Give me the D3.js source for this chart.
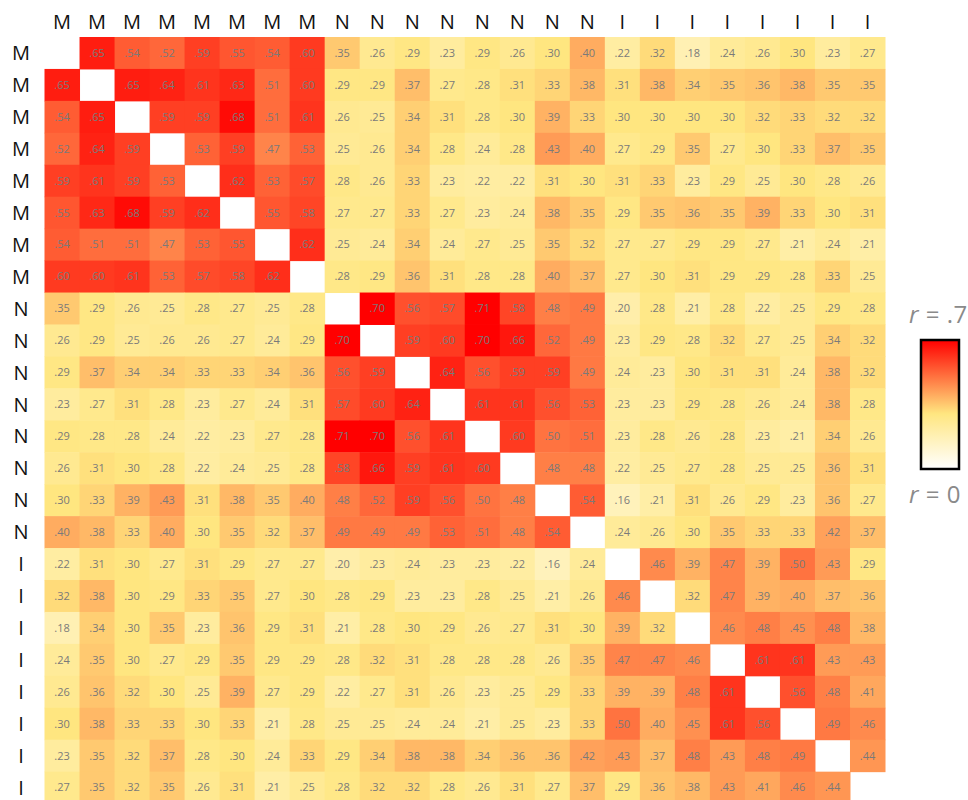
<!DOCTYPE html>
<html>
<head>
<meta charset="utf-8">
<script src="https://cdn.jsdelivr.net/npm/d3@7"></script>
<style>
  html, body { margin: 0; padding: 0; background: #fff; }
  svg { display: block; }
</style>
</head>
<body>
<svg id="chart" width="968" height="800"></svg>
<script>
// Variable labels (group letters), in matrix order
const labels = ["M","M","M","M","M","M","M","M",
                "N","N","N","N","N","N","N","N",
                "I","I","I","I","I","I","I","I"];

// Correlation matrix (null on diagonal)
const corr = [
  [null,.65,.54,.52,.59,.55,.54,.60,.35,.26,.29,.23,.29,.26,.30,.40,.22,.32,.18,.24,.26,.30,.23,.27],
  [.65,null,.65,.64,.61,.63,.51,.60,.29,.29,.37,.27,.28,.31,.33,.38,.31,.38,.34,.35,.36,.38,.35,.35],
  [.54,.65,null,.59,.59,.68,.51,.61,.26,.25,.34,.31,.28,.30,.39,.33,.30,.30,.30,.30,.32,.33,.32,.32],
  [.52,.64,.59,null,.53,.59,.47,.53,.25,.26,.34,.28,.24,.28,.43,.40,.27,.29,.35,.27,.30,.33,.37,.35],
  [.59,.61,.59,.53,null,.62,.53,.57,.28,.26,.33,.23,.22,.22,.31,.30,.31,.33,.23,.29,.25,.30,.28,.26],
  [.55,.63,.68,.59,.62,null,.55,.58,.27,.27,.33,.27,.23,.24,.38,.35,.29,.35,.36,.35,.39,.33,.30,.31],
  [.54,.51,.51,.47,.53,.55,null,.62,.25,.24,.34,.24,.27,.25,.35,.32,.27,.27,.29,.29,.27,.21,.24,.21],
  [.60,.60,.61,.53,.57,.58,.62,null,.28,.29,.36,.31,.28,.28,.40,.37,.27,.30,.31,.29,.29,.28,.33,.25],
  [.35,.29,.26,.25,.28,.27,.25,.28,null,.70,.56,.57,.71,.58,.48,.49,.20,.28,.21,.28,.22,.25,.29,.28],
  [.26,.29,.25,.26,.26,.27,.24,.29,.70,null,.59,.60,.70,.66,.52,.49,.23,.29,.28,.32,.27,.25,.34,.32],
  [.29,.37,.34,.34,.33,.33,.34,.36,.56,.59,null,.64,.56,.59,.59,.49,.24,.23,.30,.31,.31,.24,.38,.32],
  [.23,.27,.31,.28,.23,.27,.24,.31,.57,.60,.64,null,.61,.61,.56,.53,.23,.23,.29,.28,.26,.24,.38,.28],
  [.29,.28,.28,.24,.22,.23,.27,.28,.71,.70,.56,.61,null,.60,.50,.51,.23,.28,.26,.28,.23,.21,.34,.26],
  [.26,.31,.30,.28,.22,.24,.25,.28,.58,.66,.59,.61,.60,null,.48,.48,.22,.25,.27,.28,.25,.25,.36,.31],
  [.30,.33,.39,.43,.31,.38,.35,.40,.48,.52,.59,.56,.50,.48,null,.54,.16,.21,.31,.26,.29,.23,.36,.27],
  [.40,.38,.33,.40,.30,.35,.32,.37,.49,.49,.49,.53,.51,.48,.54,null,.24,.26,.30,.35,.33,.33,.42,.37],
  [.22,.31,.30,.27,.31,.29,.27,.27,.20,.23,.24,.23,.23,.22,.16,.24,null,.46,.39,.47,.39,.50,.43,.29],
  [.32,.38,.30,.29,.33,.35,.27,.30,.28,.29,.23,.23,.28,.25,.21,.26,.46,null,.32,.47,.39,.40,.37,.36],
  [.18,.34,.30,.35,.23,.36,.29,.31,.21,.28,.30,.29,.26,.27,.31,.30,.39,.32,null,.46,.48,.45,.48,.38],
  [.24,.35,.30,.27,.29,.35,.29,.29,.28,.32,.31,.28,.28,.28,.26,.35,.47,.47,.46,null,.61,.61,.43,.43],
  [.26,.36,.32,.30,.25,.39,.27,.29,.22,.27,.31,.26,.23,.25,.29,.33,.39,.39,.48,.61,null,.56,.48,.41],
  [.30,.38,.33,.33,.30,.33,.21,.28,.25,.25,.24,.24,.21,.25,.23,.33,.50,.40,.45,.61,.56,null,.49,.46],
  [.23,.35,.32,.37,.28,.30,.24,.33,.29,.34,.38,.38,.34,.36,.36,.42,.43,.37,.48,.43,.48,.49,null,.44],
  [.27,.35,.32,.35,.26,.31,.21,.25,.28,.32,.32,.28,.26,.31,.27,.37,.29,.36,.38,.43,.41,.46,.44,null]
];

// Colour scale stops and legend labels
const colorDomain = [0, 0.30, 0.70];
const colorRange = ["#ffffff", "#ffe680", "#ff0000"];
const legendLabels = ["r = .7", "r = 0"];

const svg = d3.select("#chart");
const idx = d3.range(labels.length);

const x = d3.scaleBand().domain(idx).range([44.5, 885]);
const y = d3.scaleBand().domain(idx).range([37, 803.6]);
const color = d3.scaleLinear().domain(colorDomain).range(colorRange).clamp(true);

const cells = [];
corr.forEach((row, i) => row.forEach((v, j) => cells.push({i, j, v})));

const g = svg.append("g");
g.selectAll("rect.cell")
  .data(cells.filter(d => d.v !== null))
  .join("rect")
  .attr("class", "cell")
  .attr("x", d => x(d.j))
  .attr("y", d => y(d.i))
  .attr("width", x.bandwidth() + 0.5)
  .attr("height", y.bandwidth() + 0.5)
  .attr("fill", d => color(d.v));

g.selectAll("text.val")
  .data(cells.filter(d => d.v !== null))
  .join("text")
  .attr("class", "val")
  .attr("x", d => x(d.j) + x.bandwidth() / 2)
  .attr("y", d => y(d.i) + y.bandwidth() / 2)
  .attr("dy", "0.35em")
  .attr("text-anchor", "middle")
  .attr("font-family", "'Open Sans', sans-serif")
  .attr("font-size", 11)
  .attr("fill", "#7a7a7a")
  .text(d => d3.format(".2f")(d.v).replace(/^0/, ""));

// Column labels
svg.append("g").selectAll("text")
  .data(idx)
  .join("text")
  .attr("x", d => x(d) + x.bandwidth() / 2)
  .attr("y", 29)
  .attr("text-anchor", "middle")
  .attr("font-family", "'Open Sans', sans-serif")
  .attr("font-size", 20)
  .attr("fill", "#111")
  .text(d => labels[d]);

// Row labels
svg.append("g").selectAll("text")
  .data(idx)
  .join("text")
  .attr("x", 21)
  .attr("y", d => y(d) + y.bandwidth() / 2)
  .attr("dy", "0.36em")
  .attr("text-anchor", "middle")
  .attr("font-family", "'Open Sans', sans-serif")
  .attr("font-size", 20)
  .attr("fill", "#111")
  .text(d => labels[d]);

// Legend
const defs = svg.append("defs");
const grad = defs.append("linearGradient")
  .attr("id", "lg").attr("x1", 0).attr("y1", 1).attr("x2", 0).attr("y2", 0);
const lmax = colorDomain[colorDomain.length - 1];
colorDomain.forEach((d, k) => {
  grad.append("stop").attr("offset", d / lmax).attr("stop-color", colorRange[k]);
});

const ly = d3.scaleLinear().domain([0, lmax]).range([469, 340]);
svg.append("rect")
  .attr("x", 921).attr("y", ly(lmax))
  .attr("width", 38).attr("height", ly(0) - ly(lmax))
  .attr("fill", "url(#lg)")
  .attr("stroke", "#000").attr("stroke-width", 2.5);

function legendText(yPos, txt) {
  const t = svg.append("text")
    .attr("x", 909).attr("y", yPos)
    .attr("font-family", "'Open Sans', sans-serif")
    .attr("font-size", 24)
    .attr("letter-spacing", 0.5)
    .attr("fill", "#8a8a8a");
  const parts = txt.split(" ");
  t.append("tspan").attr("font-style", "italic").text(parts[0]);
  t.append("tspan").text(" " + parts.slice(1).join(" "));
}
legendText(ly(lmax) - 17, legendLabels[0]);
legendText(ly(0) + 34, legendLabels[1]);
</script>
</body>
</html>
